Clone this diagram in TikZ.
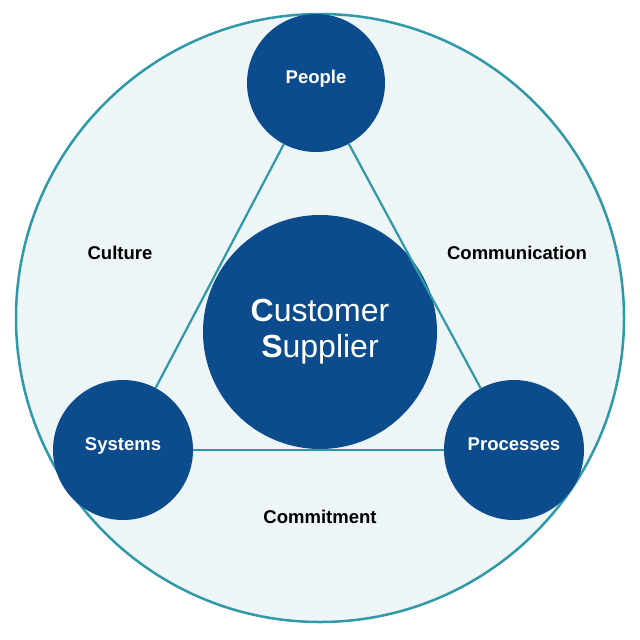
\documentclass[tikz,border=0pt]{standalone}
\usepackage{fontspec}
\setmainfont{Liberation Sans}
\definecolor{bluec}{RGB}{12,76,141}
\definecolor{tealc}{RGB}{48,153,168}
\definecolor{outerfill}{RGB}{237,245,246}
\begin{document}
\begin{tikzpicture}[x=1pt,y=-1pt,
  conn/.style={draw=tealc, line width=2.2pt},
  bub/.style={circle, fill=bluec, text=white, inner sep=0pt,
    font=\bfseries\fontsize{18.5}{20}\selectfont, text height=13pt, text depth=12pt},
  lbl/.style={font=\bfseries\fontsize{18.5}{20}\selectfont, text=black, inner sep=0pt}]
\useasboundingbox (0,0) rectangle (640,640);
\fill[white] (0,0) rectangle (640,640);
\node[circle, fill=outerfill, draw=tealc, line width=2.5pt, minimum size=608pt, inner sep=0pt] (outer) at (320,318) {};
\node[circle, fill=bluec, text=white, inner sep=0pt, minimum size=234pt, align=center,
  font=\fontsize{32}{36}\selectfont] (cs) at (320,332) {{\bfseries C}ustomer\\{\bfseries S}upplier};
\node[bub, minimum size=138pt] (people) at (316,83) {People};
\node[bub, minimum size=140pt] (systems) at (123,450) {Systems};
\node[bub, minimum size=140pt] (processes) at (514,450) {Processes};
\draw[conn] (people) -- (systems);
\draw[conn] (people) -- (processes);
\draw[conn] (systems) -- (processes);
\node[lbl] (culture) at (120,253) {Culture};
\node[lbl] (comm) at (517,253) {Communication};
\node[lbl] (commit) at (320,517) {Commitment};
\end{tikzpicture}
\end{document}
